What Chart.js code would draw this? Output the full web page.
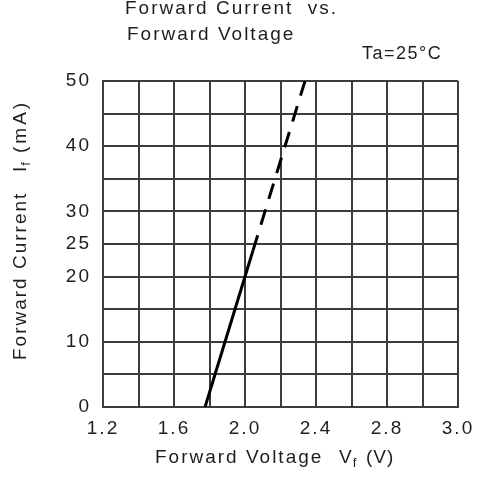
<!DOCTYPE html>
<html>
<head>
<meta charset="utf-8">
<script src="https://cdn.jsdelivr.net/npm/chart.js@4"></script>
<style>
  body { margin: 0; background: #fff; }
  canvas { display: block; }
</style>
</head>
<body>
<canvas id="chart" width="477" height="479"></canvas>
<script>
// grid runs 1.2 .. 3.2 in 0.2 steps, but the sheet labels the last line "3.0"
const xTickLabels = ['1.2', '', '1.6', '', '2.0', '', '2.4', '', '2.8', '', '3.0']
const yTickLabels = { 0: '0', 10: '10', 20: '20', 25: '25', 30: '30', 40: '40', 50: '50' }

// measured part of the curve (solid) and extrapolated part (dashed)
const solidV = [1.775, 2.045]
const solidI = [0, 24]
const dashV = [2.045, 2.338]
const dashI = [24, 50]

const FONT = '"Liberation Sans", Arial, sans-serif'
const INK = '#1e1e1e'

const toPts = (xs, ys) => xs.map((x, i) => ({ x: x, y: ys[i] }))

function txt (ctx, s, x, y, size, sp) {
  ctx.font = size + 'px ' + FONT
  ctx.letterSpacing = (sp || 0) + 'px'
  ctx.fillText(s, x, y)
  return ctx.measureText(s).width
}

const labels = {
  id: 'labels',
  beforeDraw (chart) {
    chart.ctx.letterSpacing = '2px'
  },
  afterDraw (chart) {
    const ctx = chart.ctx
    ctx.save()
    ctx.fillStyle = INK
    ctx.textAlign = 'left'
    ctx.textBaseline = 'alphabetic'
    txt(ctx, 'Forward Current  vs.', 125, 14, 19, 2)
    txt(ctx, 'Forward Voltage', 127, 40, 19, 2)
    txt(ctx, 'Ta=25°C', 362, 59, 18, 1.5)

    // x title
    let x = 155
    x += txt(ctx, 'Forward Voltage', x, 463, 19, 2)
    x = 339
    x += txt(ctx, 'V', x, 463, 19, 2)
    txt(ctx, 'f', x - 1, 467, 13, 0)
    txt(ctx, '(V)', 366, 463, 19, 1)

    // y title, rotated
    ctx.translate(26, 0)
    ctx.rotate(-Math.PI / 2)
    txt(ctx, 'Forward Current', -360, 0, 19, 2)
    let s = -172
    s += txt(ctx, 'I', s, 0, 19, 2)
    txt(ctx, 'f', s - 1, 4, 13, 0)
    txt(ctx, '(mA)', -153, 0, 19, 3)
    ctx.restore()
  }
}

new Chart(document.getElementById('chart'), {
  type: 'scatter',
  data: {
    datasets: [
      { data: toPts(solidV, solidI), showLine: true, borderColor: '#000', borderWidth: 3, pointRadius: 0 },
      { data: toPts(dashV, dashI), showLine: true, borderColor: '#000', borderWidth: 3, borderDash: [16, 11], pointRadius: 0 }
    ]
  },
  options: {
    responsive: false,
    animation: false,
    layout: { padding: { left: 0, top: 81, right: 19, bottom: 0 } },
    plugins: { legend: { display: false }, tooltip: { enabled: false } },
    scales: {
      x: {
        type: 'linear',
        min: 1.2,
        max: 3.2,
        afterFit: (s) => { s.height = 72; s.paddingRight = 0; s.paddingLeft = 0 },
        afterBuildTicks: (s) => { s.ticks = xTickLabels.map((l, i) => ({ value: 1.2 + i * 0.2 })) },
        ticks: {
          autoSkip: false,
          maxRotation: 0,
          padding: 10,
          color: INK,
          font: { family: FONT, size: 19 },
          callback: (v, i) => xTickLabels[i]
        },
        grid: { color: '#3c3c3c', lineWidth: 2, drawTicks: false },
        border: { color: '#3c3c3c', width: 2 }
      },
      y: {
        min: 0,
        max: 50,
        afterFit: (s) => { s.width = 103 },
        ticks: {
          stepSize: 5,
          autoSkip: false,
          padding: 12,
          color: INK,
          font: { family: FONT, size: 19 },
          callback: (v) => yTickLabels[v] || ''
        },
        grid: { color: '#3c3c3c', lineWidth: 2, drawTicks: false },
        border: { color: '#3c3c3c', width: 2 }
      }
    }
  },
  plugins: [labels]
})
</script>
</body>
</html>
